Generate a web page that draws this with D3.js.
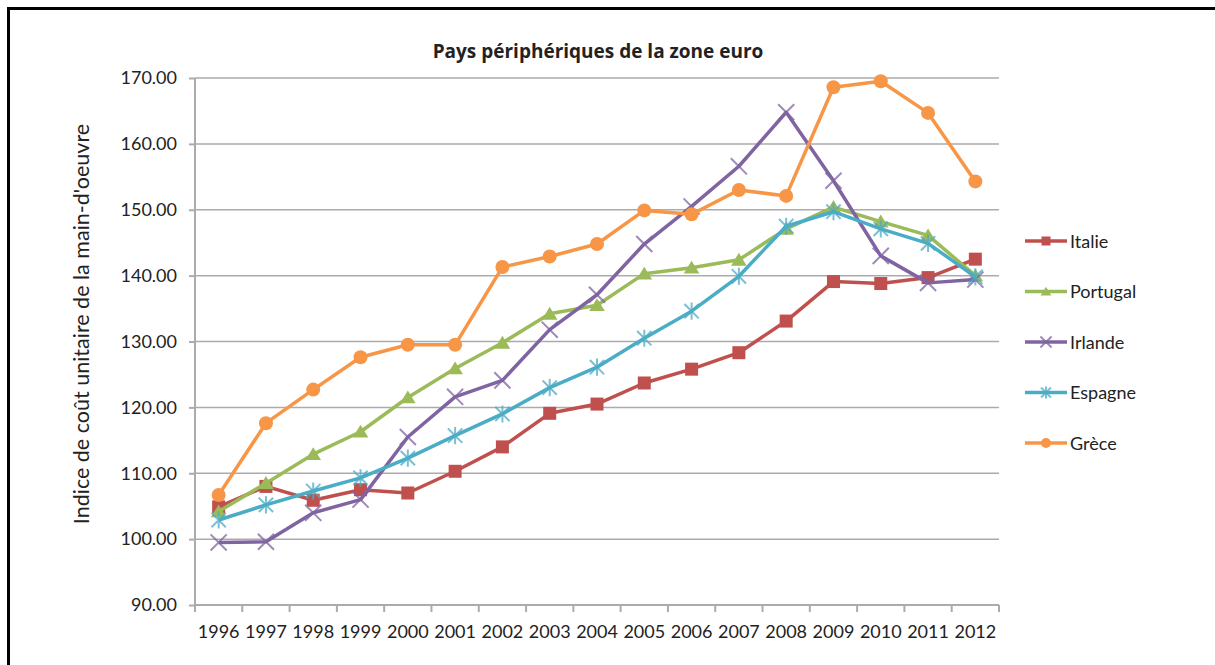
<!DOCTYPE html>
<html>
<head>
<meta charset="utf-8">
<script src="https://cdn.jsdelivr.net/npm/d3@7"></script>
<style>
    body { margin: 0; background: #fff; }
    svg text { fill: #222; }
</style>
</head>
<body>
<div class="canvas"></div>
<script>
// Data
const years = ['1996', '1997', '1998', '1999', '2000', '2001', '2002', '2003', '2004',
    '2005', '2006', '2007', '2008', '2009', '2010', '2011', '2012'];
const italie = [104.9, 108.0, 105.9, 107.5, 107.0, 110.3, 114.0, 119.1, 120.5,
    123.7, 125.8, 128.3, 133.1, 139.1, 138.8, 139.7, 142.5];
const portugal = [104.2, 108.5, 112.9, 116.3, 121.5, 125.9, 129.8, 134.2, 135.5,
    140.3, 141.2, 142.4, 147.1, 150.4, 148.2, 146.1, 140.0];
const irlande = [99.5, 99.6, 104.0, 106.0, 115.5, 121.6, 124.1, 131.8, 137.1,
    144.8, 150.5, 156.6, 164.8, 154.4, 143.0, 138.9, 139.4];
const espagne = [102.9, 105.2, 107.3, 109.3, 112.3, 115.7, 119.0, 123.0, 126.1,
    130.5, 134.6, 139.9, 147.5, 149.7, 147.1, 144.9, 139.8];
const grece = [106.7, 117.6, 122.7, 127.6, 129.5, 129.5, 141.3, 142.9, 144.8,
    149.9, 149.3, 153.0, 152.1, 168.6, 169.5, 164.7, 154.3];
const yTicks = [90, 100, 110, 120, 130, 140, 150, 160, 170];

const series = [
    { name: 'Italie', values: italie, color: '#C0504D', marker: 'square' },
    { name: 'Portugal', values: portugal, color: '#9BBB59', marker: 'triangle' },
    { name: 'Irlande', values: irlande, color: '#8064A2', marker: 'times' },
    { name: 'Espagne', values: espagne, color: '#4BACC6', marker: 'star' },
    { name: 'Grèce', values: grece, color: '#F79646', marker: 'circle' }
];

//Canvas
const width = 1215, height = 665;
const plotL = 195, plotR = 999, plotT = 78, plotB = 605;
const font = 'Lato, sans-serif';

const svg = d3.select('.canvas')
    .append('svg')
    .attr('width', width)
    .attr('height', height);

// frame
svg.append('rect')
    .attr('x', 8.5).attr('y', 8.5)
    .attr('width', width + 20).attr('height', height + 20)
    .attr('fill', 'none')
    .attr('stroke', '#000')
    .attr('stroke-width', 3);

const xScale = d3.scaleBand()
    .domain(years)
    .range([plotL, plotR]);

const yScale = d3.scaleLinear()
    .domain([90, 170])
    .range([plotB, plotT]);

// gridlines
svg.append('g')
    .selectAll('line')
    .data(yTicks.slice(1))
    .join('line')
    .attr('x1', plotL).attr('x2', plotR)
    .attr('y1', d => yScale(d)).attr('y2', d => yScale(d))
    .attr('stroke', '#ababab')
    .attr('stroke-width', 1.5);

//Y-Axis
const yAxis = d3.axisLeft(yScale)
    .tickValues(yTicks)
    .tickFormat(d3.format('.2f'))
    .tickSize(6)
    .tickPadding(12);
svg.append('g')
    .attr('transform', `translate(${plotL}, 0)`)
    .call(yAxis)
    .call(g => g.selectAll('path, line').attr('stroke', '#ababab').attr('stroke-width', 2))
    .call(g => g.select('.domain').attr('d', `M0,${plotT}V${plotB}`))
    .call(g => g.selectAll('text')
        .attr('font-size', 18)
        .attr('font-family', font)
        .attr('fill', '#222'));

//X-Axis
const xAxis = d3.axisBottom(xScale).tickSize(0).tickPadding(20);
svg.append('g')
    .attr('transform', `translate(0, ${plotB})`)
    .call(xAxis)
    .call(g => g.select('.domain').attr('d', `M${plotL},0H${plotR}`)
        .attr('stroke', '#ababab').attr('stroke-width', 2))
    .call(g => g.selectAll('text')
        .attr('font-size', 18)
        .attr('font-family', font)
        .attr('fill', '#222'))
    .call(g => g.selectAll('.sep')
        .data(d3.range(years.length + 1))
        .join('line')
        .attr('class', 'sep')
        .attr('x1', i => plotL + i * xScale.step())
        .attr('x2', i => plotL + i * xScale.step())
        .attr('y1', 0).attr('y2', 7)
        .attr('stroke', '#ababab').attr('stroke-width', 2));

// axis title
svg.append('text')
    .attr('transform', `translate(89, 324) rotate(-90)`)
    .attr('text-anchor', 'middle')
    .attr('font-family', font)
    .attr('font-size', 21.5)
    .text("Indice de coût unitaire de la main-d'oeuvre");

// chart title
svg.append('text')
    .attr('x', 598).attr('y', 58)
    .attr('text-anchor', 'middle')
    .attr('font-size', 19)
    .attr('font-weight', 'bold')
    .attr('font-family', '"Open Sans", sans-serif')
    .text('Pays périphériques de la zone euro');

// markers
function drawMarker(g, type, color, s) {
    if (type === 'square') {
        g.append('rect').attr('x', -s / 2).attr('y', -s / 2).attr('width', s).attr('height', s)
            .attr('fill', color);
    } else if (type === 'triangle') {
        const h = s * 0.9;
        g.append('path').attr('d', `M0,${-h * 0.6}L${s * 0.6},${h * 0.5}L${-s * 0.6},${h * 0.5}Z`)
            .attr('fill', color);
    } else if (type === 'circle') {
        g.append('circle').attr('r', s / 2 + 0.5).attr('fill', color);
    } else if (type === 'times') {
        const r = s * 0.62;
        g.append('path').attr('d', `M${-r},${-r}L${r},${r}M${-r},${r}L${r},${-r}`)
            .attr('stroke', color).attr('stroke-width', 2).attr('opacity', 0.75);
    } else if (type === 'star') {
        const r = s * 0.55;
        g.append('path').attr('d', `M${-r},${-r}L${r},${r}M${-r},${r}L${r},${-r}M0,${-r * 1.2}V${r * 1.2}`)
            .attr('stroke', color).attr('stroke-width', 2).attr('opacity', 0.75);
    }
}

const line = d3.line()
    .x((d, i) => xScale(years[i]) + xScale.bandwidth() / 2)
    .y(d => yScale(d));

series.forEach(s => {
    const g = svg.append('g');
    g.append('path')
        .attr('d', line(s.values))
        .attr('fill', 'none')
        .attr('stroke', s.color)
        .attr('stroke-width', 3.5)
        .attr('stroke-linejoin', 'round');
    s.values.forEach((v, i) => {
        const m = g.append('g')
            .attr('transform', `translate(${xScale(years[i]) + xScale.bandwidth() / 2}, ${yScale(v)})`);
        drawMarker(m, s.marker, s.color, 13);
    });
});

//Legend
const legend = svg.append('g').attr('transform', 'translate(1025, 241)');
series.forEach((s, i) => {
    const g = legend.append('g').attr('transform', `translate(0, ${i * 50.5})`);
    g.append('line').attr('x1', 0).attr('x2', 42).attr('y1', 0).attr('y2', 0)
        .attr('stroke', s.color).attr('stroke-width', 3.5);
    const m = g.append('g').attr('transform', 'translate(21, 0)');
    drawMarker(m, s.marker, s.color, 9);
    g.append('text')
        .attr('x', 45).attr('y', 6.5)
        .attr('font-family', font)
        .attr('font-size', 18)
        .text(s.name);
});
</script>
</body>
</html>
